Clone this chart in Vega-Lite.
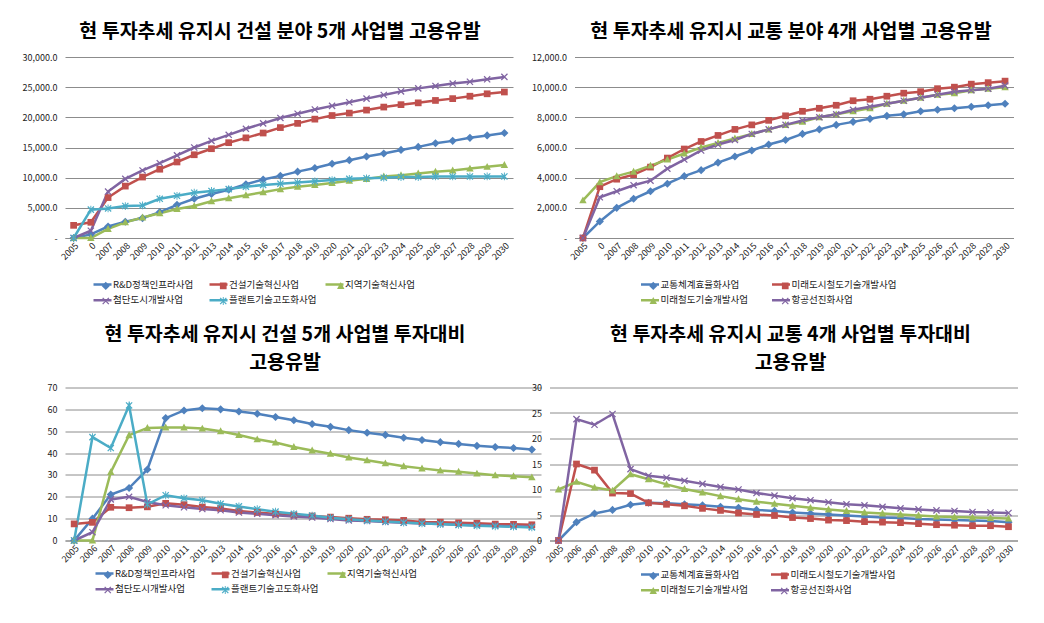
{
"$schema": "https://vega.github.io/schema/vega-lite/v6.json",
"padding": {"left": 22, "top": 21, "right": 0, "bottom": 0},
"columns": 2,
"align": "none",
"spacing": {"row": 18.5, "column": -9.5},
"resolve": {"scale": {"color": "independent", "stroke": "independent", "shape": "independent", "x": "independent", "y": "independent"}, "legend": {"color": "independent", "stroke": "independent", "shape": "independent"}},
"config": {
  "view": {"stroke": null},
  "font": "Noto Sans CJK KR",
  "axis": {"labelFont": "Noto Sans CJK KR", "labelFontSize": 9, "labelColor": "#222222", "gridColor": "#8c8c8c", "domainColor": "#8c8c8c", "ticks": false, "title": null, "minExtent": 0},
  "axisX": {"grid": false, "labelAngle": -45, "labelPadding": 3, "domain": true},
  "axisY": {"domain": false, "grid": true, "labelPadding": 8, "minExtent": 0},
  "title": {"font": "Noto Sans CJK KR", "fontSize": 19.5, "fontWeight": "bold", "color": "#000000", "anchor": "middle", "frame": "group", "offset": 11, "lineHeight": 28},
  "legend": {"labelFont": "Noto Sans CJK KR", "labelFontSize": 9.5, "labelColor": "#222222", "symbolOpacity": 1, "padding": 0, "title": null, "orient": "none", "direction": "horizontal", "gridAlign": "all"}
},
"datasets": {
"d1": [
{"s":"R&D정책인프라사업","y":"2005","v":0},{"s":"R&D정책인프라사업","y":"2006","v":600},{"s":"R&D정책인프라사업","y":"2007","v":1900},{"s":"R&D정책인프라사업","y":"2008","v":2700},{"s":"R&D정책인프라사업","y":"2009","v":3300},{"s":"R&D정책인프라사업","y":"2010","v":4300},{"s":"R&D정책인프라사업","y":"2011","v":5500},{"s":"R&D정책인프라사업","y":"2012","v":6500},{"s":"R&D정책인프라사업","y":"2013","v":7300},{"s":"R&D정책인프라사업","y":"2014","v":8000},{"s":"R&D정책인프라사업","y":"2015","v":8900},{"s":"R&D정책인프라사업","y":"2016","v":9700},{"s":"R&D정책인프라사업","y":"2017","v":10300},{"s":"R&D정책인프라사업","y":"2018","v":11000},{"s":"R&D정책인프라사업","y":"2019","v":11600},{"s":"R&D정책인프라사업","y":"2020","v":12300},{"s":"R&D정책인프라사업","y":"2021","v":12900},{"s":"R&D정책인프라사업","y":"2022","v":13500},{"s":"R&D정책인프라사업","y":"2023","v":14000},{"s":"R&D정책인프라사업","y":"2024","v":14600},{"s":"R&D정책인프라사업","y":"2025","v":15100},{"s":"R&D정책인프라사업","y":"2026","v":15700},{"s":"R&D정책인프라사업","y":"2027","v":16100},{"s":"R&D정책인프라사업","y":"2028","v":16600},{"s":"R&D정책인프라사업","y":"2029","v":17000},{"s":"R&D정책인프라사업","y":"2030","v":17400},
{"s":"건설기술혁신사업","y":"2005","v":2100},{"s":"건설기술혁신사업","y":"2006","v":2600},{"s":"건설기술혁신사업","y":"2007","v":6700},{"s":"건설기술혁신사업","y":"2008","v":8600},{"s":"건설기술혁신사업","y":"2009","v":10100},{"s":"건설기술혁신사업","y":"2010","v":11400},{"s":"건설기술혁신사업","y":"2011","v":12600},{"s":"건설기술혁신사업","y":"2012","v":13800},{"s":"건설기술혁신사업","y":"2013","v":14800},{"s":"건설기술혁신사업","y":"2014","v":15800},{"s":"건설기술혁신사업","y":"2015","v":16600},{"s":"건설기술혁신사업","y":"2016","v":17400},{"s":"건설기술혁신사업","y":"2017","v":18300},{"s":"건설기술혁신사업","y":"2018","v":19000},{"s":"건설기술혁신사업","y":"2019","v":19700},{"s":"건설기술혁신사업","y":"2020","v":20300},{"s":"건설기술혁신사업","y":"2021","v":20700},{"s":"건설기술혁신사업","y":"2022","v":21200},{"s":"건설기술혁신사업","y":"2023","v":21700},{"s":"건설기술혁신사업","y":"2024","v":22100},{"s":"건설기술혁신사업","y":"2025","v":22400},{"s":"건설기술혁신사업","y":"2026","v":22800},{"s":"건설기술혁신사업","y":"2027","v":23100},{"s":"건설기술혁신사업","y":"2028","v":23500},{"s":"건설기술혁신사업","y":"2029","v":23900},{"s":"건설기술혁신사업","y":"2030","v":24200},
{"s":"지역기술혁신사업","y":"2005","v":0},{"s":"지역기술혁신사업","y":"2006","v":0},{"s":"지역기술혁신사업","y":"2007","v":1500},{"s":"지역기술혁신사업","y":"2008","v":2600},{"s":"지역기술혁신사업","y":"2009","v":3400},{"s":"지역기술혁신사업","y":"2010","v":4100},{"s":"지역기술혁신사업","y":"2011","v":4800},{"s":"지역기술혁신사업","y":"2012","v":5300},{"s":"지역기술혁신사업","y":"2013","v":6100},{"s":"지역기술혁신사업","y":"2014","v":6600},{"s":"지역기술혁신사업","y":"2015","v":7100},{"s":"지역기술혁신사업","y":"2016","v":7600},{"s":"지역기술혁신사업","y":"2017","v":8100},{"s":"지역기술혁신사업","y":"2018","v":8500},{"s":"지역기술혁신사업","y":"2019","v":8800},{"s":"지역기술혁신사업","y":"2020","v":9100},{"s":"지역기술혁신사업","y":"2021","v":9500},{"s":"지역기술혁신사업","y":"2022","v":9800},{"s":"지역기술혁신사업","y":"2023","v":10200},{"s":"지역기술혁신사업","y":"2024","v":10400},{"s":"지역기술혁신사업","y":"2025","v":10700},{"s":"지역기술혁신사업","y":"2026","v":11000},{"s":"지역기술혁신사업","y":"2027","v":11200},{"s":"지역기술혁신사업","y":"2028","v":11500},{"s":"지역기술혁신사업","y":"2029","v":11800},{"s":"지역기술혁신사업","y":"2030","v":12100},
{"s":"첨단도시개발사업","y":"2005","v":0},{"s":"첨단도시개발사업","y":"2006","v":1200},{"s":"첨단도시개발사업","y":"2007","v":7700},{"s":"첨단도시개발사업","y":"2008","v":9800},{"s":"첨단도시개발사업","y":"2009","v":11200},{"s":"첨단도시개발사업","y":"2010","v":12400},{"s":"첨단도시개발사업","y":"2011","v":13700},{"s":"첨단도시개발사업","y":"2012","v":15000},{"s":"첨단도시개발사업","y":"2013","v":16100},{"s":"첨단도시개발사업","y":"2014","v":17100},{"s":"첨단도시개발사업","y":"2015","v":18100},{"s":"첨단도시개발사업","y":"2016","v":19000},{"s":"첨단도시개발사업","y":"2017","v":19900},{"s":"첨단도시개발사업","y":"2018","v":20600},{"s":"첨단도시개발사업","y":"2019","v":21300},{"s":"첨단도시개발사업","y":"2020","v":21900},{"s":"첨단도시개발사업","y":"2021","v":22500},{"s":"첨단도시개발사업","y":"2022","v":23100},{"s":"첨단도시개발사업","y":"2023","v":23700},{"s":"첨단도시개발사업","y":"2024","v":24300},{"s":"첨단도시개발사업","y":"2025","v":24800},{"s":"첨단도시개발사업","y":"2026","v":25200},{"s":"첨단도시개발사업","y":"2027","v":25600},{"s":"첨단도시개발사업","y":"2028","v":25900},{"s":"첨단도시개발사업","y":"2029","v":26300},{"s":"첨단도시개발사업","y":"2030","v":26700},
{"s":"플랜트기술고도화사업","y":"2005","v":0},{"s":"플랜트기술고도화사업","y":"2006","v":4700},{"s":"플랜트기술고도화사업","y":"2007","v":4900},{"s":"플랜트기술고도화사업","y":"2008","v":5300},{"s":"플랜트기술고도화사업","y":"2009","v":5400},{"s":"플랜트기술고도화사업","y":"2010","v":6500},{"s":"플랜트기술고도화사업","y":"2011","v":7000},{"s":"플랜트기술고도화사업","y":"2012","v":7500},{"s":"플랜트기술고도화사업","y":"2013","v":7800},{"s":"플랜트기술고도화사업","y":"2014","v":8100},{"s":"플랜트기술고도화사업","y":"2015","v":8500},{"s":"플랜트기술고도화사업","y":"2016","v":8800},{"s":"플랜트기술고도화사업","y":"2017","v":9000},{"s":"플랜트기술고도화사업","y":"2018","v":9200},{"s":"플랜트기술고도화사업","y":"2019","v":9400},{"s":"플랜트기술고도화사업","y":"2020","v":9600},{"s":"플랜트기술고도화사업","y":"2021","v":9800},{"s":"플랜트기술고도화사업","y":"2022","v":9900},{"s":"플랜트기술고도화사업","y":"2023","v":10000},{"s":"플랜트기술고도화사업","y":"2024","v":10100},{"s":"플랜트기술고도화사업","y":"2025","v":10100},{"s":"플랜트기술고도화사업","y":"2026","v":10200},{"s":"플랜트기술고도화사업","y":"2027","v":10200},{"s":"플랜트기술고도화사업","y":"2028","v":10200},{"s":"플랜트기술고도화사업","y":"2029","v":10200},{"s":"플랜트기술고도화사업","y":"2030","v":10200}
],
"d2": [
{"s":"교통체계효율화사업","y":"2005","v":0},{"s":"교통체계효율화사업","y":"2006","v":1100},{"s":"교통체계효율화사업","y":"2007","v":2000},{"s":"교통체계효율화사업","y":"2008","v":2600},{"s":"교통체계효율화사업","y":"2009","v":3100},{"s":"교통체계효율화사업","y":"2010","v":3600},{"s":"교통체계효율화사업","y":"2011","v":4100},{"s":"교통체계효율화사업","y":"2012","v":4500},{"s":"교통체계효율화사업","y":"2013","v":5000},{"s":"교통체계효율화사업","y":"2014","v":5400},{"s":"교통체계효율화사업","y":"2015","v":5800},{"s":"교통체계효율화사업","y":"2016","v":6200},{"s":"교통체계효율화사업","y":"2017","v":6500},{"s":"교통체계효율화사업","y":"2018","v":6900},{"s":"교통체계효율화사업","y":"2019","v":7200},{"s":"교통체계효율화사업","y":"2020","v":7500},{"s":"교통체계효율화사업","y":"2021","v":7700},{"s":"교통체계효율화사업","y":"2022","v":7900},{"s":"교통체계효율화사업","y":"2023","v":8100},{"s":"교통체계효율화사업","y":"2024","v":8200},{"s":"교통체계효율화사업","y":"2025","v":8400},{"s":"교통체계효율화사업","y":"2026","v":8500},{"s":"교통체계효율화사업","y":"2027","v":8600},{"s":"교통체계효율화사업","y":"2028","v":8700},{"s":"교통체계효율화사업","y":"2029","v":8800},{"s":"교통체계효율화사업","y":"2030","v":8900},
{"s":"미래도시철도기술개발사업","y":"2005","v":0},{"s":"미래도시철도기술개발사업","y":"2006","v":3400},{"s":"미래도시철도기술개발사업","y":"2007","v":3900},{"s":"미래도시철도기술개발사업","y":"2008","v":4200},{"s":"미래도시철도기술개발사업","y":"2009","v":4700},{"s":"미래도시철도기술개발사업","y":"2010","v":5300},{"s":"미래도시철도기술개발사업","y":"2011","v":5900},{"s":"미래도시철도기술개발사업","y":"2012","v":6400},{"s":"미래도시철도기술개발사업","y":"2013","v":6800},{"s":"미래도시철도기술개발사업","y":"2014","v":7200},{"s":"미래도시철도기술개발사업","y":"2015","v":7500},{"s":"미래도시철도기술개발사업","y":"2016","v":7800},{"s":"미래도시철도기술개발사업","y":"2017","v":8100},{"s":"미래도시철도기술개발사업","y":"2018","v":8400},{"s":"미래도시철도기술개발사업","y":"2019","v":8600},{"s":"미래도시철도기술개발사업","y":"2020","v":8800},{"s":"미래도시철도기술개발사업","y":"2021","v":9100},{"s":"미래도시철도기술개발사업","y":"2022","v":9200},{"s":"미래도시철도기술개발사업","y":"2023","v":9400},{"s":"미래도시철도기술개발사업","y":"2024","v":9600},{"s":"미래도시철도기술개발사업","y":"2025","v":9700},{"s":"미래도시철도기술개발사업","y":"2026","v":9900},{"s":"미래도시철도기술개발사업","y":"2027","v":10000},{"s":"미래도시철도기술개발사업","y":"2028","v":10200},{"s":"미래도시철도기술개발사업","y":"2029","v":10300},{"s":"미래도시철도기술개발사업","y":"2030","v":10400},
{"s":"미래철도기술개발사업","y":"2005","v":2500},{"s":"미래철도기술개발사업","y":"2006","v":3700},{"s":"미래철도기술개발사업","y":"2007","v":4100},{"s":"미래철도기술개발사업","y":"2008","v":4400},{"s":"미래철도기술개발사업","y":"2009","v":4800},{"s":"미래철도기술개발사업","y":"2010","v":5200},{"s":"미래철도기술개발사업","y":"2011","v":5600},{"s":"미래철도기술개발사업","y":"2012","v":6000},{"s":"미래철도기술개발사업","y":"2013","v":6300},{"s":"미래철도기술개발사업","y":"2014","v":6600},{"s":"미래철도기술개발사업","y":"2015","v":6900},{"s":"미래철도기술개발사업","y":"2016","v":7200},{"s":"미래철도기술개발사업","y":"2017","v":7500},{"s":"미래철도기술개발사업","y":"2018","v":7700},{"s":"미래철도기술개발사업","y":"2019","v":8000},{"s":"미래철도기술개발사업","y":"2020","v":8200},{"s":"미래철도기술개발사업","y":"2021","v":8400},{"s":"미래철도기술개발사업","y":"2022","v":8600},{"s":"미래철도기술개발사업","y":"2023","v":8900},{"s":"미래철도기술개발사업","y":"2024","v":9100},{"s":"미래철도기술개발사업","y":"2025","v":9300},{"s":"미래철도기술개발사업","y":"2026","v":9500},{"s":"미래철도기술개발사업","y":"2027","v":9600},{"s":"미래철도기술개발사업","y":"2028","v":9800},{"s":"미래철도기술개발사업","y":"2029","v":9900},{"s":"미래철도기술개발사업","y":"2030","v":10000},
{"s":"항공선진화사업","y":"2005","v":0},{"s":"항공선진화사업","y":"2006","v":2700},{"s":"항공선진화사업","y":"2007","v":3100},{"s":"항공선진화사업","y":"2008","v":3500},{"s":"항공선진화사업","y":"2009","v":3800},{"s":"항공선진화사업","y":"2010","v":4600},{"s":"항공선진화사업","y":"2011","v":5200},{"s":"항공선진화사업","y":"2012","v":5800},{"s":"항공선진화사업","y":"2013","v":6200},{"s":"항공선진화사업","y":"2014","v":6500},{"s":"항공선진화사업","y":"2015","v":6900},{"s":"항공선진화사업","y":"2016","v":7200},{"s":"항공선진화사업","y":"2017","v":7500},{"s":"항공선진화사업","y":"2018","v":7800},{"s":"항공선진화사업","y":"2019","v":8000},{"s":"항공선진화사업","y":"2020","v":8200},{"s":"항공선진화사업","y":"2021","v":8500},{"s":"항공선진화사업","y":"2022","v":8700},{"s":"항공선진화사업","y":"2023","v":8900},{"s":"항공선진화사업","y":"2024","v":9100},{"s":"항공선진화사업","y":"2025","v":9300},{"s":"항공선진화사업","y":"2026","v":9500},{"s":"항공선진화사업","y":"2027","v":9700},{"s":"항공선진화사업","y":"2028","v":9800},{"s":"항공선진화사업","y":"2029","v":9900},{"s":"항공선진화사업","y":"2030","v":10100}
],
"d3": [
{"s":"R&D정책인프라사업","y":"2005","v":0},{"s":"R&D정책인프라사업","y":"2006","v":10},{"s":"R&D정책인프라사업","y":"2007","v":21},{"s":"R&D정책인프라사업","y":"2008","v":24},{"s":"R&D정책인프라사업","y":"2009","v":32.5},{"s":"R&D정책인프라사업","y":"2010","v":56},{"s":"R&D정책인프라사업","y":"2011","v":59.5},{"s":"R&D정책인프라사업","y":"2012","v":60.5},{"s":"R&D정책인프라사업","y":"2013","v":60},{"s":"R&D정책인프라사업","y":"2014","v":59},{"s":"R&D정책인프라사업","y":"2015","v":58},{"s":"R&D정책인프라사업","y":"2016","v":56.5},{"s":"R&D정책인프라사업","y":"2017","v":55},{"s":"R&D정책인프라사업","y":"2018","v":53.3},{"s":"R&D정책인프라사업","y":"2019","v":52},{"s":"R&D정책인프라사업","y":"2020","v":50.5},{"s":"R&D정책인프라사업","y":"2021","v":49.3},{"s":"R&D정책인프라사업","y":"2022","v":48.3},{"s":"R&D정책인프라사업","y":"2023","v":47},{"s":"R&D정책인프라사업","y":"2024","v":46},{"s":"R&D정책인프라사업","y":"2025","v":45},{"s":"R&D정책인프라사업","y":"2026","v":44.2},{"s":"R&D정책인프라사업","y":"2027","v":43.3},{"s":"R&D정책인프라사업","y":"2028","v":42.8},{"s":"R&D정책인프라사업","y":"2029","v":42.3},{"s":"R&D정책인프라사업","y":"2030","v":41.6},
{"s":"건설기술혁신사업","y":"2005","v":7.6},{"s":"건설기술혁신사업","y":"2006","v":8.3},{"s":"건설기술혁신사업","y":"2007","v":15.2},{"s":"건설기술혁신사업","y":"2008","v":15},{"s":"건설기술혁신사업","y":"2009","v":15.4},{"s":"건설기술혁신사업","y":"2010","v":17},{"s":"건설기술혁신사업","y":"2011","v":16.4},{"s":"건설기술혁신사업","y":"2012","v":15.3},{"s":"건설기술혁신사업","y":"2013","v":14.7},{"s":"건설기술혁신사업","y":"2014","v":13.5},{"s":"건설기술혁신사업","y":"2015","v":12.8},{"s":"건설기술혁신사업","y":"2016","v":12.1},{"s":"건설기술혁신사업","y":"2017","v":11.6},{"s":"건설기술혁신사업","y":"2018","v":11.2},{"s":"건설기술혁신사업","y":"2019","v":10.7},{"s":"건설기술혁신사업","y":"2020","v":10.2},{"s":"건설기술혁신사업","y":"2021","v":9.7},{"s":"건설기술혁신사업","y":"2022","v":9.5},{"s":"건설기술혁신사업","y":"2023","v":9.2},{"s":"건설기술혁신사업","y":"2024","v":8.5},{"s":"건설기술혁신사업","y":"2025","v":8.4},{"s":"건설기술혁신사업","y":"2026","v":8.1},{"s":"건설기술혁신사업","y":"2027","v":7.9},{"s":"건설기술혁신사업","y":"2028","v":7.5},{"s":"건설기술혁신사업","y":"2029","v":7.4},{"s":"건설기술혁신사업","y":"2030","v":7.2},
{"s":"지역기술혁신사업","y":"2005","v":0},{"s":"지역기술혁신사업","y":"2006","v":0},{"s":"지역기술혁신사업","y":"2007","v":31.3},{"s":"지역기술혁신사업","y":"2008","v":48.2},{"s":"지역기술혁신사업","y":"2009","v":51.5},{"s":"지역기술혁신사업","y":"2010","v":51.7},{"s":"지역기술혁신사업","y":"2011","v":51.7},{"s":"지역기술혁신사업","y":"2012","v":51.2},{"s":"지역기술혁신사업","y":"2013","v":50},{"s":"지역기술혁신사업","y":"2014","v":48.3},{"s":"지역기술혁신사업","y":"2015","v":46.3},{"s":"지역기술혁신사업","y":"2016","v":44.8},{"s":"지역기술혁신사업","y":"2017","v":42.8},{"s":"지역기술혁신사업","y":"2018","v":41.2},{"s":"지역기술혁신사업","y":"2019","v":39.7},{"s":"지역기술혁신사업","y":"2020","v":38},{"s":"지역기술혁신사업","y":"2021","v":36.7},{"s":"지역기술혁신사업","y":"2022","v":35.3},{"s":"지역기술혁신사업","y":"2023","v":34},{"s":"지역기술혁신사업","y":"2024","v":33},{"s":"지역기술혁신사업","y":"2025","v":32},{"s":"지역기술혁신사업","y":"2026","v":31.5},{"s":"지역기술혁신사업","y":"2027","v":30.6},{"s":"지역기술혁신사업","y":"2028","v":29.8},{"s":"지역기술혁신사업","y":"2029","v":29.4},{"s":"지역기술혁신사업","y":"2030","v":28.9},
{"s":"첨단도시개발사업","y":"2005","v":0},{"s":"첨단도시개발사업","y":"2006","v":3.8},{"s":"첨단도시개발사업","y":"2007","v":18.8},{"s":"첨단도시개발사업","y":"2008","v":20},{"s":"첨단도시개발사업","y":"2009","v":17.6},{"s":"첨단도시개발사업","y":"2010","v":16.1},{"s":"첨단도시개발사업","y":"2011","v":15.2},{"s":"첨단도시개발사업","y":"2012","v":14.4},{"s":"첨단도시개발사업","y":"2013","v":13.8},{"s":"첨단도시개발사업","y":"2014","v":12.8},{"s":"첨단도시개발사업","y":"2015","v":12.2},{"s":"첨단도시개발사업","y":"2016","v":11.6},{"s":"첨단도시개발사업","y":"2017","v":11},{"s":"첨단도시개발사업","y":"2018","v":10.5},{"s":"첨단도시개발사업","y":"2019","v":9.8},{"s":"첨단도시개발사업","y":"2020","v":9.2},{"s":"첨단도시개발사업","y":"2021","v":8.9},{"s":"첨단도시개발사업","y":"2022","v":8.5},{"s":"첨단도시개발사업","y":"2023","v":8.1},{"s":"첨단도시개발사업","y":"2024","v":7.8},{"s":"첨단도시개발사업","y":"2025","v":7.5},{"s":"첨단도시개발사업","y":"2026","v":7.2},{"s":"첨단도시개발사업","y":"2027","v":7},{"s":"첨단도시개발사업","y":"2028","v":6.8},{"s":"첨단도시개발사업","y":"2029","v":6.5},{"s":"첨단도시개발사업","y":"2030","v":6.3},
{"s":"플랜트기술고도화사업","y":"2005","v":0},{"s":"플랜트기술고도화사업","y":"2006","v":47.3},{"s":"플랜트기술고도화사업","y":"2007","v":42.3},{"s":"플랜트기술고도화사업","y":"2008","v":61.8},{"s":"플랜트기술고도화사업","y":"2009","v":16.5},{"s":"플랜트기술고도화사업","y":"2010","v":20.7},{"s":"플랜트기술고도화사업","y":"2011","v":19.3},{"s":"플랜트기술고도화사업","y":"2012","v":18.4},{"s":"플랜트기술고도화사업","y":"2013","v":16.8},{"s":"플랜트기술고도화사업","y":"2014","v":15.6},{"s":"플랜트기술고도화사업","y":"2015","v":14.3},{"s":"플랜트기술고도화사업","y":"2016","v":13.2},{"s":"플랜트기술고도화사업","y":"2017","v":12.2},{"s":"플랜트기술고도화사업","y":"2018","v":11.4},{"s":"플랜트기술고도화사업","y":"2019","v":10.4},{"s":"플랜트기술고도화사업","y":"2020","v":9.7},{"s":"플랜트기술고도화사업","y":"2021","v":9.2},{"s":"플랜트기술고도화사업","y":"2022","v":8.7},{"s":"플랜트기술고도화사업","y":"2023","v":8.2},{"s":"플랜트기술고도화사업","y":"2024","v":7.8},{"s":"플랜트기술고도화사업","y":"2025","v":7.5},{"s":"플랜트기술고도화사업","y":"2026","v":7.1},{"s":"플랜트기술고도화사업","y":"2027","v":6.8},{"s":"플랜트기술고도화사업","y":"2028","v":6.5},{"s":"플랜트기술고도화사업","y":"2029","v":6.3},{"s":"플랜트기술고도화사업","y":"2030","v":6}
],
"d4": [
{"s":"교통체계효율화사업","y":"2005","v":0},{"s":"교통체계효율화사업","y":"2006","v":3.6},{"s":"교통체계효율화사업","y":"2007","v":5.3},{"s":"교통체계효율화사업","y":"2008","v":6},{"s":"교통체계효율화사업","y":"2009","v":7},{"s":"교통체계효율화사업","y":"2010","v":7.4},{"s":"교통체계효율화사업","y":"2011","v":7.3},{"s":"교통체계효율화사업","y":"2012","v":7.1},{"s":"교통체계효율화사업","y":"2013","v":6.9},{"s":"교통체계효율화사업","y":"2014","v":6.6},{"s":"교통체계효율화사업","y":"2015","v":6.4},{"s":"교통체계효율화사업","y":"2016","v":6},{"s":"교통체계효율화사업","y":"2017","v":5.8},{"s":"교통체계효율화사업","y":"2018","v":5.5},{"s":"교통체계효율화사업","y":"2019","v":5.3},{"s":"교통체계효율화사업","y":"2020","v":5.1},{"s":"교통체계효율화사업","y":"2021","v":4.9},{"s":"교통체계효율화사업","y":"2022","v":4.7},{"s":"교통체계효율화사업","y":"2023","v":4.5},{"s":"교통체계효율화사업","y":"2024","v":4.4},{"s":"교통체계효율화사업","y":"2025","v":4.2},{"s":"교통체계효율화사업","y":"2026","v":4.1},{"s":"교통체계효율화사업","y":"2027","v":4},{"s":"교통체계효율화사업","y":"2028","v":3.9},{"s":"교통체계효율화사업","y":"2029","v":3.8},{"s":"교통체계효율화사업","y":"2030","v":3.6},
{"s":"미래도시철도기술개발사업","y":"2005","v":0},{"s":"미래도시철도기술개발사업","y":"2006","v":15},{"s":"미래도시철도기술개발사업","y":"2007","v":13.8},{"s":"미래도시철도기술개발사업","y":"2008","v":9.3},{"s":"미래도시철도기술개발사업","y":"2009","v":9.2},{"s":"미래도시철도기술개발사업","y":"2010","v":7.4},{"s":"미래도시철도기술개발사업","y":"2011","v":7.1},{"s":"미래도시철도기술개발사업","y":"2012","v":6.8},{"s":"미래도시철도기술개발사업","y":"2013","v":6.3},{"s":"미래도시철도기술개발사업","y":"2014","v":5.9},{"s":"미래도시철도기술개발사업","y":"2015","v":5.4},{"s":"미래도시철도기술개발사업","y":"2016","v":5.1},{"s":"미래도시철도기술개발사업","y":"2017","v":4.9},{"s":"미래도시철도기술개발사업","y":"2018","v":4.5},{"s":"미래도시철도기술개발사업","y":"2019","v":4.3},{"s":"미래도시철도기술개발사업","y":"2020","v":4},{"s":"미래도시철도기술개발사업","y":"2021","v":3.9},{"s":"미래도시철도기술개발사업","y":"2022","v":3.7},{"s":"미래도시철도기술개발사업","y":"2023","v":3.6},{"s":"미래도시철도기술개발사업","y":"2024","v":3.5},{"s":"미래도시철도기술개발사업","y":"2025","v":3.3},{"s":"미래도시철도기술개발사업","y":"2026","v":3.1},{"s":"미래도시철도기술개발사업","y":"2027","v":3},{"s":"미래도시철도기술개발사업","y":"2028","v":2.9},{"s":"미래도시철도기술개발사업","y":"2029","v":2.9},{"s":"미래도시철도기술개발사업","y":"2030","v":2.7},
{"s":"미래철도기술개발사업","y":"2005","v":10},{"s":"미래철도기술개발사업","y":"2006","v":11.5},{"s":"미래철도기술개발사업","y":"2007","v":10.4},{"s":"미래철도기술개발사업","y":"2008","v":9.8},{"s":"미래철도기술개발사업","y":"2009","v":13},{"s":"미래철도기술개발사업","y":"2010","v":12},{"s":"미래철도기술개발사업","y":"2011","v":11},{"s":"미래철도기술개발사업","y":"2012","v":10.1},{"s":"미래철도기술개발사업","y":"2013","v":9.4},{"s":"미래철도기술개발사업","y":"2014","v":8.7},{"s":"미래철도기술개발사업","y":"2015","v":8.1},{"s":"미래철도기술개발사업","y":"2016","v":7.6},{"s":"미래철도기술개발사업","y":"2017","v":7.2},{"s":"미래철도기술개발사업","y":"2018","v":6.8},{"s":"미래철도기술개발사업","y":"2019","v":6.4},{"s":"미래철도기술개발사업","y":"2020","v":6.1},{"s":"미래철도기술개발사업","y":"2021","v":5.8},{"s":"미래철도기술개발사업","y":"2022","v":5.5},{"s":"미래철도기술개발사업","y":"2023","v":5.3},{"s":"미래철도기술개발사업","y":"2024","v":5.1},{"s":"미래철도기술개발사업","y":"2025","v":4.9},{"s":"미래철도기술개발사업","y":"2026","v":4.7},{"s":"미래철도기술개발사업","y":"2027","v":4.6},{"s":"미래철도기술개발사업","y":"2028","v":4.5},{"s":"미래철도기술개발사업","y":"2029","v":4.4},{"s":"미래철도기술개발사업","y":"2030","v":4.3},
{"s":"항공선진화사업","y":"2005","v":0},{"s":"항공선진화사업","y":"2006","v":23.8},{"s":"항공선진화사업","y":"2007","v":22.7},{"s":"항공선진화사업","y":"2008","v":24.8},{"s":"항공선진화사업","y":"2009","v":14},{"s":"항공선진화사업","y":"2010","v":12.7},{"s":"항공선진화사업","y":"2011","v":12.3},{"s":"항공선진화사업","y":"2012","v":11.7},{"s":"항공선진화사업","y":"2013","v":11.1},{"s":"항공선진화사업","y":"2014","v":10.5},{"s":"항공선진화사업","y":"2015","v":10},{"s":"항공선진화사업","y":"2016","v":9.3},{"s":"항공선진화사업","y":"2017","v":8.8},{"s":"항공선진화사업","y":"2018","v":8.3},{"s":"항공선진화사업","y":"2019","v":7.9},{"s":"항공선진화사업","y":"2020","v":7.5},{"s":"항공선진화사업","y":"2021","v":7.1},{"s":"항공선진화사업","y":"2022","v":6.9},{"s":"항공선진화사업","y":"2023","v":6.6},{"s":"항공선진화사업","y":"2024","v":6.3},{"s":"항공선진화사업","y":"2025","v":6.1},{"s":"항공선진화사업","y":"2026","v":5.9},{"s":"항공선진화사업","y":"2027","v":5.8},{"s":"항공선진화사업","y":"2028","v":5.6},{"s":"항공선진화사업","y":"2029","v":5.5},{"s":"항공선진화사업","y":"2030","v":5.4}
]
},
"concat": [
{
  "width": 448, "height": 181,
  "title": {"text": "현 투자추세 유지시 건설 분야 5개 사업별  고용유발", "dx": -9},
  "data": {"name": "d1"},
  "encoding": {
    "x": {"field": "y", "type": "ordinal", "sort": null, "axis": {"labelExpr": "datum.label == '2006' ? '0' : datum.label"}},
    "y": {"field": "v", "type": "quantitative", "scale": {"domain": [0, 30000], "nice": false}, "axis": {"values": [0, 5000, 10000, 15000, 20000, 25000, 30000], "labelExpr": "datum.value == 0 ? '-' : format(datum.value, ',.1f')"}}
  },
  "layer": [
    {"mark": {"type": "line", "strokeWidth": 2.5},
     "encoding": {"stroke": {"field": "s", "type": "nominal", "sort": null, "scale": {"domain": ["R&D정책인프라사업","건설기술혁신사업","지역기술혁신사업","첨단도시개발사업","플랜트기술고도화사업"," "], "range": ["#4F81BD","#C0504D","#9BBB59","#8064A2","#4BACC6","#ffffff"]},
       "legend": {"values": ["R&D정책인프라사업","건설기술혁신사업","지역기술혁신사업","첨단도시개발사업","플랜트기술고도화사업"], "legendX": 27, "legendY": 216.75, "columns": 3, "columnPadding": 3, "rowPadding": -0.5, "symbolType": "stroke", "symbolSize": 324, "symbolStrokeWidth": 2.5, "labelOffset": 0}}}},
    {"mark": {"type": "point", "filled": true, "opacity": 1, "size": 50, "strokeWidth": 0},
     "encoding": {
       "color": {"field": "s", "type": "nominal", "sort": null, "scale": {"domain": ["R&D정책인프라사업","건설기술혁신사업","지역기술혁신사업","첨단도시개발사업","플랜트기술고도화사업"], "range": ["#4F81BD","#C0504D","#9BBB59","#8064A2","#4BACC6"]},
         "legend": {"legendX": 36, "legendY": 223.75, "columns": 3, "columnPadding": 107.5, "rowPadding": 4.5, "symbolSize": 50, "symbolStrokeWidth": 0, "labelOffset": 0, "labelExpr": "''"}},
       "shape": {"field": "s", "type": "nominal", "scale": {"domain": ["R&D정책인프라사업","건설기술혁신사업","지역기술혁신사업","첨단도시개발사업","플랜트기술고도화사업"], "range": ["M0,-1.15L1.15,0L0,1.15L-1.15,0Z","M-0.95,-0.95H0.95V0.95H-0.95Z","M0,-1.1L1.05,0.85H-1.05Z","M-1,-0.75L-0.75,-1L1,0.75L0.75,1Z M0.75,-1L1,-0.75L-0.75,1L-1,0.75Z","M-1,-0.75L-0.75,-1L1,0.75L0.75,1Z M0.75,-1L1,-0.75L-0.75,1L-1,0.75Z M-0.13,-1.1H0.13V1.1H-0.13Z"]}, "legend": null}
     }}
  ]
},
{
  "width": 439, "height": 181,
  "title": {"text": "현 투자추세 유지시 교통 분야 4개 사업별 고용유발", "dx": -3},
  "data": {"name": "d2"},
  "encoding": {
    "x": {"field": "y", "type": "ordinal", "sort": null, "axis": {"labelExpr": "datum.label == '2006' ? '0' : datum.label"}},
    "y": {"field": "v", "type": "quantitative", "scale": {"domain": [0, 12000], "nice": false}, "axis": {"values": [0, 2000, 4000, 6000, 8000, 10000, 12000], "labelExpr": "datum.value == 0 ? '-' : format(datum.value, ',.1f')"}}
  },
  "layer": [
    {"mark": {"type": "line", "strokeWidth": 2.5},
     "encoding": {"stroke": {"field": "s", "type": "nominal", "sort": null, "scale": {"domain": ["교통체계효율화사업","미래도시철도기술개발사업","미래철도기술개발사업","항공선진화사업"," "], "range": ["#4F81BD","#C0504D","#9BBB59","#8064A2","#ffffff"]},
       "legend": {"values": ["교통체계효율화사업","미래도시철도기술개발사업","미래철도기술개발사업","항공선진화사업"], "legendX": 65, "legendY": 216.75, "columns": 2, "columnPadding": 1, "rowPadding": -0.5, "symbolType": "stroke", "symbolSize": 324, "symbolStrokeWidth": 2.5, "labelOffset": 0}}}},
    {"mark": {"type": "point", "filled": true, "opacity": 1, "size": 50, "strokeWidth": 0},
     "encoding": {
       "color": {"field": "s", "type": "nominal", "sort": null, "scale": {"domain": ["교통체계효율화사업","미래도시철도기술개발사업","미래철도기술개발사업","항공선진화사업"], "range": ["#4F81BD","#C0504D","#9BBB59","#8064A2"]},
         "legend": {"legendX": 74, "legendY": 223.75, "columns": 2, "columnPadding": 122, "rowPadding": 4.5, "symbolSize": 50, "symbolStrokeWidth": 0, "labelOffset": 0, "labelExpr": "''"}},
       "shape": {"field": "s", "type": "nominal", "scale": {"domain": ["교통체계효율화사업","미래도시철도기술개발사업","미래철도기술개발사업","항공선진화사업"], "range": ["M0,-1.15L1.15,0L0,1.15L-1.15,0Z","M-0.95,-0.95H0.95V0.95H-0.95Z","M0,-1.1L1.05,0.85H-1.05Z","M-1,-0.75L-0.75,-1L1,0.75L0.75,1Z M0.75,-1L1,-0.75L-0.75,1L-1,0.75Z"]}, "legend": null}
     }}
  ]
},
{
  "width": 476, "height": 153,
  "title": {"text": ["현 투자추세 유지시 건설 5개 사업별 투자대비", "고용유발"], "offset": 10, "dx": -18},
  "data": {"name": "d3"},
  "encoding": {
    "x": {"field": "y", "type": "ordinal", "sort": null},
    "y": {"field": "v", "type": "quantitative", "scale": {"domain": [0, 70], "nice": false}, "axis": {"values": [0, 10, 20, 30, 40, 50, 60, 70], "minExtent": 0}}
  },
  "layer": [
    {"mark": {"type": "line", "strokeWidth": 2.5},
     "encoding": {"stroke": {"field": "s", "type": "nominal", "sort": null, "scale": {"domain": ["R&D정책인프라사업","건설기술혁신사업","지역기술혁신사업","첨단도시개발사업","플랜트기술고도화사업"," "], "range": ["#4F81BD","#C0504D","#9BBB59","#8064A2","#4BACC6","#ffffff"]},
       "legend": {"values": ["R&D정책인프라사업","건설기술혁신사업","지역기술혁신사업","첨단도시개발사업","플랜트기술고도화사업"], "legendX": 29, "legendY": 175.25, "columns": 3, "columnPadding": 3, "rowPadding": -0.5, "symbolType": "stroke", "symbolSize": 324, "symbolStrokeWidth": 2.5, "labelOffset": 0}}}},
    {"mark": {"type": "point", "filled": true, "opacity": 1, "size": 50, "strokeWidth": 0},
     "encoding": {
       "color": {"field": "s", "type": "nominal", "sort": null, "scale": {"domain": ["R&D정책인프라사업","건설기술혁신사업","지역기술혁신사업","첨단도시개발사업","플랜트기술고도화사업"], "range": ["#4F81BD","#C0504D","#9BBB59","#8064A2","#4BACC6"]},
         "legend": {"legendX": 38, "legendY": 182.25, "columns": 3, "columnPadding": 107.5, "rowPadding": 4.5, "symbolSize": 50, "symbolStrokeWidth": 0, "labelOffset": 0, "labelExpr": "''"}},
       "shape": {"field": "s", "type": "nominal", "scale": {"domain": ["R&D정책인프라사업","건설기술혁신사업","지역기술혁신사업","첨단도시개발사업","플랜트기술고도화사업"], "range": ["M0,-1.15L1.15,0L0,1.15L-1.15,0Z","M-0.95,-0.95H0.95V0.95H-0.95Z","M0,-1.1L1.05,0.85H-1.05Z","M-1,-0.75L-0.75,-1L1,0.75L0.75,1Z M0.75,-1L1,-0.75L-0.75,1L-1,0.75Z","M-1,-0.75L-0.75,-1L1,0.75L0.75,1Z M0.75,-1L1,-0.75L-0.75,1L-1,0.75Z M-0.13,-1.1H0.13V1.1H-0.13Z"]}, "legend": null}
     }}
  ]
},
{
  "width": 468, "height": 153,
  "title": {"text": ["현 투자추세 유지시 교통 4개 사업별 투자대비", "고용유발"], "offset": 10, "dx": 7},
  "data": {"name": "d4"},
  "encoding": {
    "x": {"field": "y", "type": "ordinal", "sort": null},
    "y": {"field": "v", "type": "quantitative", "scale": {"domain": [0, 30], "nice": false}, "axis": {"values": [0, 5, 10, 15, 20, 25, 30]}}
  },
  "layer": [
    {"mark": {"type": "line", "strokeWidth": 2.5},
     "encoding": {"stroke": {"field": "s", "type": "nominal", "sort": null, "scale": {"domain": ["교통체계효율화사업","미래도시철도기술개발사업","미래철도기술개발사업","항공선진화사업"," "], "range": ["#4F81BD","#C0504D","#9BBB59","#8064A2","#ffffff"]},
       "legend": {"values": ["교통체계효율화사업","미래도시철도기술개발사업","미래철도기술개발사업","항공선진화사업"], "legendX": 90, "legendY": 176.25, "columns": 2, "columnPadding": 0, "rowPadding": -0.5, "symbolType": "stroke", "symbolSize": 324, "symbolStrokeWidth": 2.5, "labelOffset": 0}}}},
    {"mark": {"type": "point", "filled": true, "opacity": 1, "size": 50, "strokeWidth": 0},
     "encoding": {
       "color": {"field": "s", "type": "nominal", "sort": null, "scale": {"domain": ["교통체계효율화사업","미래도시철도기술개발사업","미래철도기술개발사업","항공선진화사업"], "range": ["#4F81BD","#C0504D","#9BBB59","#8064A2"]},
         "legend": {"legendX": 99, "legendY": 183.25, "columns": 2, "columnPadding": 121, "rowPadding": 4.5, "symbolSize": 50, "symbolStrokeWidth": 0, "labelOffset": 0, "labelExpr": "''"}},
       "shape": {"field": "s", "type": "nominal", "scale": {"domain": ["교통체계효율화사업","미래도시철도기술개발사업","미래철도기술개발사업","항공선진화사업"], "range": ["M0,-1.15L1.15,0L0,1.15L-1.15,0Z","M-0.95,-0.95H0.95V0.95H-0.95Z","M0,-1.1L1.05,0.85H-1.05Z","M-1,-0.75L-0.75,-1L1,0.75L0.75,1Z M0.75,-1L1,-0.75L-0.75,1L-1,0.75Z"]}, "legend": null}
     }}
  ]
}
]
}
